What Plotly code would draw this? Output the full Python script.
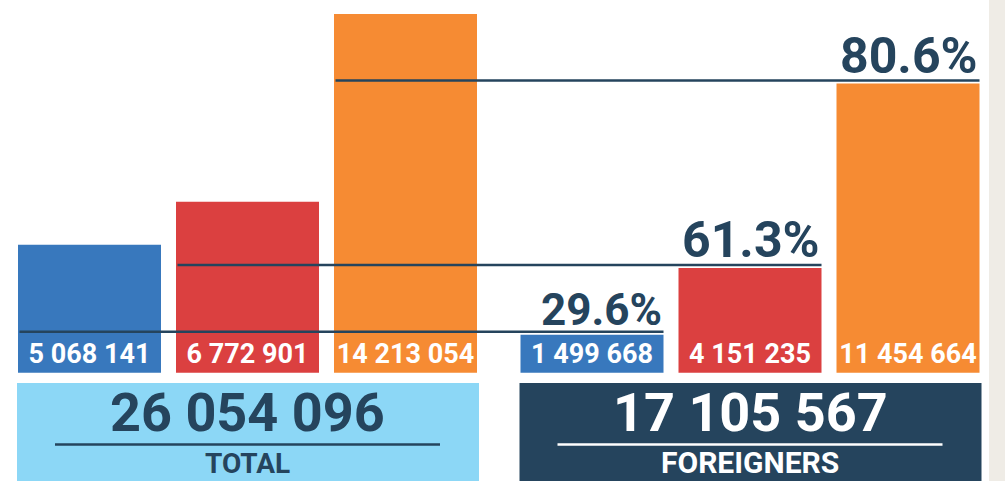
import plotly.graph_objects as go

# ---------------- data ----------------
categories = ["TOTAL", "FOREIGNERS"]
blue_values = [5068141, 1499668]
red_values = [6772901, 4151235]
orange_values = [14213054, 11454664]
group_totals = [26054096, 17105567]

series = [blue_values, red_values, orange_values]
series_colors = ["#3878BD", "#DB4040", "#F68B33"]
box_colors = ["#8CD7F6", "#25445D"]
box_text_colors = ["#25445D", "#FFFFFF"]
NAVY = "#25445D"


def fmt(v):
    return f"{v:,}".replace(",", " ")


# ---------------- layout constants (pixels) ----------------
W, H = 1005, 481
PLOT_W = 989            # white area; right strip is grey
UNIT_PX = 502.5         # distance between category centres
X0_PX = 247.5           # centre of first category
BASE_PX = 372.7         # baseline (from top)
MAXBAR_PX = 358.7       # height of tallest bar
BOX_TOP_PX = 383

bargap = 1 - 474 / UNIT_PX
bargroupgap = 15 / 158
slot = (1 - bargap) / 3
half_bar = slot * (1 - bargroupgap) / 2

vmax = max(max(s) for s in series)
per_px = vmax / MAXBAR_PX
yrange = [-(H - BASE_PX) * per_px, BASE_PX * per_px]
xrange = [-X0_PX / UNIT_PX, (PLOT_W - X0_PX) / UNIT_PX]

FONT = "Roboto, sans-serif"

fig = go.Figure()
for vals, col in zip(series, series_colors):
    fig.add_trace(go.Bar(
        x=categories, y=vals,
        marker=dict(color=col, line=dict(width=0)),
        text=[fmt(v) for v in vals],
        textposition="inside", insidetextanchor="start",
        textangle=0,
        textfont=dict(family=FONT, size=27, color="white", weight="bold"),
        hoverinfo="skip", showlegend=False,
    ))

shapes = []
annotations = []

# share lines + percentage labels
for k, vals in enumerate(series):
    left = 0 + (k - 1) * slot - half_bar
    right = 1 + (k - 1) * slot + half_bar
    share = vals[1] / vals[0] * 100
    shapes.append(dict(
        type="line", xref="x", yref="y", ysizemode="pixel", yanchor=vals[1],
        x0=left + 1.5 / UNIT_PX, x1=right, y0=3, y1=3,
        line=dict(color=NAVY, width=2.5), layer="above",
    ))
    annotations.append(dict(
        x=right, y=vals[1], xref="x", yref="y",
        xanchor="right", yanchor="bottom", yshift=-3,
        text=f"{share:.1f}%", showarrow=False,
        font=dict(family=FONT, size=50 if k else 44, color=NAVY, weight="bold"),
    ))

# boxes under groups
box_top = (H - BOX_TOP_PX) / H
group_half = 1.5 * slot - slot * bargroupgap / 2
for i, cat in enumerate(categories):
    shapes.append(dict(
        type="rect", xref="x", yref="paper",
        x0=i - group_half - 1 / UNIT_PX, x1=i + group_half + 2 / UNIT_PX,
        y0=0, y1=box_top,
        fillcolor=box_colors[i], line=dict(width=0), layer="below",
    ))
    ul = 192.5 / UNIT_PX
    uy = (H - 444.5) / H
    shapes.append(dict(
        type="line", xref="x", yref="paper",
        x0=i - ul, x1=i + ul, y0=uy, y1=uy,
        line=dict(color=box_text_colors[i], width=2.5),
    ))
    annotations.append(dict(
        x=i, y=(H - 412) / H, xref="x", yref="paper",
        xanchor="center", yanchor="middle", borderpad=0,
        text=fmt(group_totals[i]), showarrow=False,
        font=dict(family=FONT, size=54, color=box_text_colors[i], weight="bold"),
    ))
    annotations.append(dict(
        x=i, y=0, xref="x", yref="paper",
        xanchor="center", yanchor="bottom", borderpad=0,
        text=cat, showarrow=False,
        font=dict(family=FONT, size=28 if i == 0 else 30,
                  color=box_text_colors[i], weight="bold"),
    ))

fig.update_layout(
    width=W, height=H,
    margin=dict(l=0, r=W - PLOT_W, t=0, b=0),
    paper_bgcolor="#EFECE6", plot_bgcolor="white",
    barmode="group", bargap=bargap, bargroupgap=bargroupgap,
    uniformtext=dict(minsize=27, mode="show"),
    xaxis=dict(type="category", range=xrange, visible=False, fixedrange=True),
    yaxis=dict(range=yrange, visible=False, fixedrange=True),
    shapes=shapes, annotations=annotations,
)

fig.write_html("out.html")
